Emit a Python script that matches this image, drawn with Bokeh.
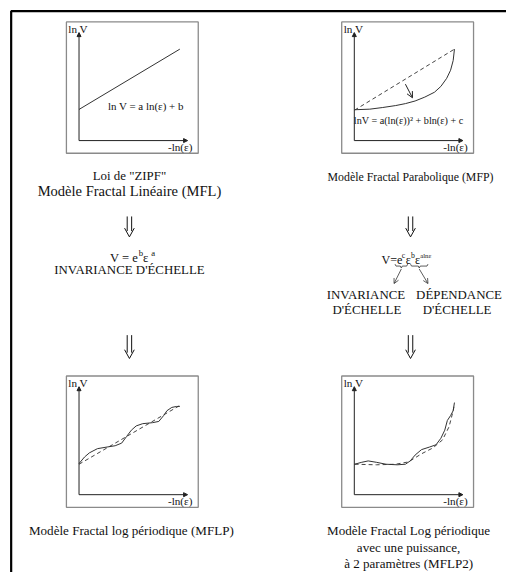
from bokeh.plotting import figure
from bokeh.models import Range1d, Arrow, NormalHead, OpenHead
from bokeh.core.properties import value
from bokeh.embed import file_html
from bokeh.resources import INLINE

FONT = "Liberation Serif"

# ---------------- data (panel-local units: x to the right, y upward, from the axis origin)
# MFL : straight line (Zipf law)
mfl_x = [0, 104]
mfl_y = [32, 94]

# MFP : parabolic curve and its straight reference line
mfp_ref_x = [0.3, 103.3]
mfp_ref_y = [31.3, 94]
mfp_x = [0.3, 16, 29.3, 42.7, 52.7, 62.7, 72.7, 82.7, 89.3, 95.3, 99.3, 102, 103.3]
mfp_y = [31.7, 32.3, 34, 36, 38, 40.7, 44.7, 49.7, 55.7, 64, 72.3, 82.3, 94]
mfp_arrow = [(52.7, 58), (60, 44)]

# MFLP : log-periodic curve around a straight line
mflp_ref_x = [0, 103.3]
mflp_ref_y = [31.3, 91.3]
mflp_x = [0, 5.7, 10.7, 19, 29, 37.3, 44, 49, 54, 59, 65.7, 75.7, 82.3, 87.3, 90.7, 95.7, 100.7, 104]
mflp_y = [32, 38.7, 43, 47.3, 49, 50.3, 53, 59.7, 66.3, 70.7, 73, 74, 75.3, 81.3, 86.3, 89.7, 90.7, 90.7]

# MFLP2 : log-periodic curve around a parabola
mflp2_ref_x = [0.3, 22.7, 42.7, 56, 69.3, 81, 91, 97.7, 102, 103.3]
mflp2_ref_y = [31.3, 30.7, 31.3, 33.7, 42, 48, 56.3, 69.7, 86.3, 93]
mflp2_x = [0.3, 7.7, 14.3, 22.7, 32.7, 44.3, 52.7, 57.7, 62.7, 69.3, 77.7, 84.3, 89.3, 93.3, 96, 99.3, 102, 103.3]
mflp2_y = [31.3, 33.3, 34.7, 33.3, 31.3, 30.7, 31.3, 34.7, 40.7, 46.3, 49, 51.3, 58, 66.3, 76.3, 81.3, 86.3, 94.7]

# texts
axis_y_label = "ln V"
axis_x_label = "-ln(\u03b5)"
eq_mfl = "ln V = a ln(\u03b5) + b"
eq_mfp = "lnV = a(ln(\u03b5))\u00b2 + bln(\u03b5) + c"
caption_zipf = "Loi de \"ZIPF\""
caption_mfl = "Mod\u00e8le Fractal Lin\u00e9aire (MFL)"
caption_mfp = "Mod\u00e8le Fractal Parabolique (MFP)"
caption_mflp = "Mod\u00e8le Fractal log p\u00e9riodique (MFLP)"
captions_mflp2 = ["Mod\u00e8le Fractal Log p\u00e9riodique", "avec une puissance,",
                  "\u00e0 2 param\u00e8tres (MFLP2)"]
invariance = "INVARIANCE D'\u00c9CHELLE"
right_words = ["INVARIANCE", "D\u00c9PENDANCE", "D'\u00c9CHELLE", "D'\u00c9CHELLE"]

# ---------------- layout (coordinates in reference pixels, canvas scaled to fit the window)
ORIGINS = [(81, 144), (365, 144), (81, 508), (365, 508)]
LEFT_CX, RIGHT_CX = 133, 423
W, H = 506, 572
FS = W / 522.0  # font scale

p = figure(width=W, height=H, x_range=Range1d(0, 522), y_range=Range1d(588, 0),
           output_backend="svg", toolbar_location=None, min_border=0,
           x_axis_location=None, y_axis_location=None)
p.grid.visible = False
p.outline_line_color = None
p.background_fill_color = "white"
p.border_fill_color = "white"

# outer frame (cropped on right and bottom)
p.line([11, 11, 540], [600, 11, 11], line_color="black", line_width=2.2)


def X(o, xs):
    return [o[0] + v for v in xs]


def Y(o, ys):
    return [o[1] - v for v in ys]


def txt(x, y, t, size, align="center", baseline="middle"):
    p.text(x=x, y=y, text=t, text_font=value(FONT),
           text_font_size=value(f"{size * FS:.2f}px"),
           text_align=align, text_baseline=baseline, text_color="#111111")


for o in ORIGINS:
    # panel box
    p.quad(left=o[0] - 13, right=o[0] + 123, top=o[1] - 122, bottom=o[1] + 13,
           fill_color=None, line_color="#8a8a8a", line_width=1.3)
    # axes
    p.add_layout(Arrow(end=NormalHead(size=4, fill_color="#222222", line_color="#222222"),
                       x_start=o[0], y_start=o[1], x_end=o[0], y_end=o[1] - 111,
                       line_color="#222222", line_width=1))
    p.add_layout(Arrow(end=NormalHead(size=4, fill_color="#222222", line_color="#222222"),
                       x_start=o[0], y_start=o[1], x_end=o[0] + 112, y_end=o[1],
                       line_color="#222222", line_width=1))
    txt([o[0] - 11], [o[1] - 115], [axis_y_label], 11.5, align="left")
    txt([o[0] + 117], [o[1] + 7], [axis_x_label], 11.5, align="right")

o1, o2, o3, o4 = ORIGINS
CURVE = dict(line_color="#333333", line_width=1)
DASH = dict(line_color="#444444", line_width=1, line_dash="4 3")

p.line(X(o1, mfl_x), Y(o1, mfl_y), **CURVE)
txt([o1[0] + 69], [o1[1] - 36], [eq_mfl], 11.3)

p.line(X(o2, mfp_ref_x), Y(o2, mfp_ref_y), **DASH)
p.line(X(o2, mfp_x), Y(o2, mfp_y), **CURVE)
p.add_layout(Arrow(end=OpenHead(size=6, line_width=1, line_color="#222222"),
                   x_start=o2[0] + mfp_arrow[0][0], y_start=o2[1] - mfp_arrow[0][1],
                   x_end=o2[0] + mfp_arrow[1][0], y_end=o2[1] - mfp_arrow[1][1],
                   line_color="#222222", line_width=1))
txt([o2[0] + 56], [o2[1] - 21], [eq_mfp], 10.5)

p.line(X(o3, mflp_ref_x), Y(o3, mflp_ref_y), **DASH)
p.line(X(o3, mflp_x), Y(o3, mflp_y), **CURVE)

p.line(X(o4, mflp2_ref_x), Y(o4, mflp2_ref_y), **DASH)
p.line(X(o4, mflp2_x), Y(o4, mflp2_y), **CURVE)

# captions
txt([LEFT_CX], [180], [caption_zipf], 13.3)
txt([LEFT_CX], [196], [caption_mfl], 15)
txt([RIGHT_CX], [181], [caption_mfp], 12.2)
txt([LEFT_CX + 2], [545], [caption_mflp], 13.5)
txt([RIGHT_CX - 2] * 3, [545, 562, 579], captions_mflp2, 13.5)


def dbl_arrow(cx, y0, y1):
    for dx in (-2.3, 2.3):
        p.line([cx + dx, cx + dx], [y0, y1 - 6], line_color="#111111", line_width=1)
    p.line([cx - 5, cx, cx + 5], [y1 - 9, y1, y1 - 9], line_color="#111111", line_width=1)


for cx in (LEFT_CX, RIGHT_CX):
    dbl_arrow(cx, 222, 243)
    dbl_arrow(cx, 344, 368)

# left formula  V = e^b ε^a
txt([113], [265], ["V = e"], 13, align="left", baseline="alphabetic")
txt([142.5], [260], ["b"], 9, align="left", baseline="alphabetic")
txt([147], [265], ["\u03b5"], 13, align="left", baseline="alphabetic")
txt([155.5], [260], ["a"], 9, align="left", baseline="alphabetic")
txt([LEFT_CX], [277], [invariance], 13.3)

# right formula  V = e^c ε^b ε^(a ln ε)
txt([393], [267], ["V=e"], 12.5, align="left", baseline="alphabetic")
txt([414], [262], ["c"], 8, align="left", baseline="alphabetic")
txt([418], [267], ["\u03b5"], 12.5, align="left", baseline="alphabetic")
txt([423.5], [262], ["b"], 8, align="left", baseline="alphabetic")
txt([427.5], [267], ["\u03b5"], 12.5, align="left", baseline="alphabetic")
txt([433], [262], ["aln\u03b5"], 7, align="left", baseline="alphabetic")


def brace(x0, x1, y):
    xm = (x0 + x1) / 2
    p.line([x0, x0 + 1, xm - 1, xm, xm + 1, x1 - 1, x1], [y - 2, y, y, y + 2, y, y, y - 2],
           line_color="#333333", line_width=0.8)


brace(407, 420, 273)
brace(423, 441, 273)
for xs, xe in ((413.5, 406), (432, 441)):
    p.add_layout(Arrow(end=OpenHead(size=5, line_width=0.8, line_color="#333333"),
                       x_start=xs, y_start=276, x_end=xe, y_end=291,
                       line_color="#333333", line_width=0.8))

txt([377, 473, 378, 471], [303, 303, 318, 318], right_words, 13.3)

open("out.html", "w").write(file_html(p, INLINE))
